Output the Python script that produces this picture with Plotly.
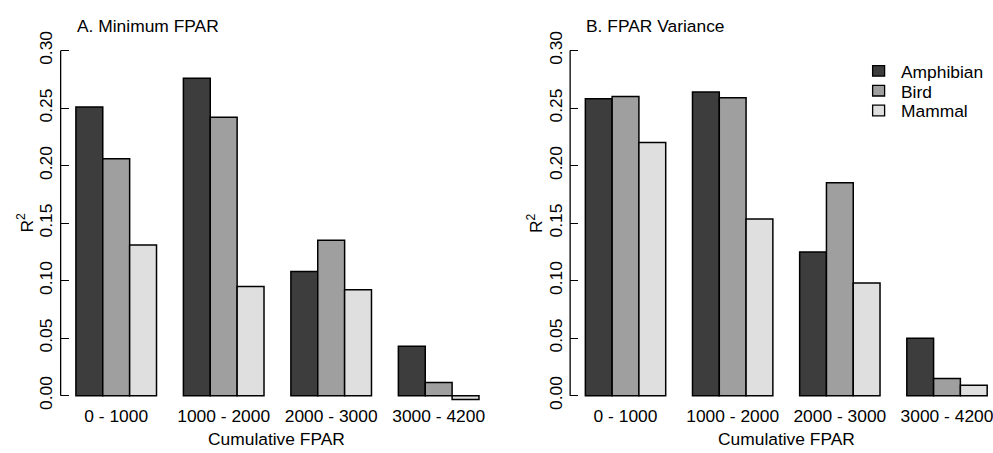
import plotly.graph_objects as go

W, H = 993, 453

categories = ["0 - 1000", "1000 - 2000", "2000 - 3000", "3000 - 4200"]
series_names = ["Amphibian", "Bird", "Mammal"]
colors = ["#3d3d3d", "#9f9f9f", "#dfdfdf"]

# Panel A: Minimum FPAR
min_fpar_amphibian = [0.251, 0.276, 0.108, 0.043]
min_fpar_bird = [0.206, 0.242, 0.135, 0.0115]
min_fpar_mammal = [0.131, 0.095, 0.092, -0.0034]

# Panel B: FPAR Variance
var_fpar_amphibian = [0.258, 0.264, 0.125, 0.050]
var_fpar_bird = [0.260, 0.259, 0.185, 0.015]
var_fpar_mammal = [0.220, 0.1535, 0.098, 0.009]

y_ticks = [0.00, 0.05, 0.10, 0.15, 0.20, 0.25, 0.30]
y_tick_labels = ["0.00", "0.05", "0.10", "0.15", "0.20", "0.25", "0.30"]

panel_titles = ["A. Minimum FPAR", "B. FPAR Variance"]
x_title = "Cumulative FPAR"
y_title = "R<sup>2</sup>"

FONT = "Liberation Sans, Arial, sans-serif"
FS = 17.4

fig = go.Figure()

panels = [
    ("x", "y", [min_fpar_amphibian, min_fpar_bird, min_fpar_mammal]),
    ("x2", "y2", [var_fpar_amphibian, var_fpar_bird, var_fpar_mammal]),
]
for xa, ya, vals in panels:
    for name, col, v in zip(series_names, colors, vals):
        fig.add_trace(go.Bar(
            x=categories, y=v, name=name, xaxis=xa, yaxis=ya,
            marker=dict(color=col, line=dict(color="black", width=1.5)),
            showlegend=False,
        ))


def px_x(p):
    return p / W


def px_y(p):
    return 1 - p / H


y_range = [-0.006, 0.31]
y_dom = [px_y(408.1), px_y(32.1)]

axis_common_x = dict(
    type="category", showline=False, showgrid=False, zeroline=False,
    ticks="", tickfont=dict(family=FONT, size=FS, color="black"),
    ticklabelstandoff=1,
)
axis_common_y = dict(
    range=y_range, showline=False, showgrid=False, zeroline=False,
    ticks="inside", ticklen=8, tickwidth=1.3, tickcolor="black",
    tickvals=y_ticks, ticktext=y_tick_labels, tickangle=-90,
    tickfont=dict(family=FONT, size=FS, color="black"),
    ticklabelstandoff=4,
)

fig.update_layout(
    width=W, height=H,
    margin=dict(l=0, r=0, t=0, b=0),
    paper_bgcolor="white", plot_bgcolor="white",
    barmode="group", bargap=0.25, bargroupgap=0,
    font=dict(family=FONT, size=FS, color="black"),
    showlegend=False,
    xaxis=dict(domain=[px_x(60.7), px_x(495.6)], range=[-0.517, 3.525],
               anchor="y", **axis_common_x),
    yaxis=dict(domain=y_dom, anchor="x", **axis_common_y),
    xaxis2=dict(domain=[px_x(570.7), 1.0], range=[-0.517, 3.42],
                anchor="y2", **axis_common_x),
    yaxis2=dict(domain=y_dom, anchor="x2", **axis_common_y),
)

shapes = []
for xa, ya in [("x", "y"), ("x2", "y2")]:
    shapes.append(dict(type="line", xref=f"{xa} domain", yref=ya,
                       x0=0, x1=0, y0=0, y1=0.3,
                       line=dict(color="black", width=1.3)))

annotations = [
    dict(text=panel_titles[0], x=px_x(75), y=px_y(19), xref="paper", yref="paper",
         xanchor="left", yanchor="middle", showarrow=False,
         font=dict(family=FONT, size=FS)),
    dict(text=panel_titles[1], x=px_x(585), y=px_y(19), xref="paper", yref="paper",
         xanchor="left", yanchor="middle", showarrow=False,
         font=dict(family=FONT, size=FS)),
    dict(text=x_title, x=px_x(277), y=px_y(446), xref="paper", yref="paper",
         xanchor="center", yanchor="middle", showarrow=False,
         font=dict(family=FONT, size=FS)),
    dict(text=x_title, x=px_x(787), y=px_y(446), xref="paper", yref="paper",
         xanchor="center", yanchor="middle", showarrow=False,
         font=dict(family=FONT, size=FS)),
    dict(text=y_title, x=px_x(25), y=px_y(222), xref="paper", yref="paper",
         xanchor="center", yanchor="middle", showarrow=False, textangle=-90,
         font=dict(family=FONT, size=FS)),
    dict(text=y_title, x=px_x(535), y=px_y(222), xref="paper", yref="paper",
         xanchor="center", yanchor="middle", showarrow=False, textangle=-90,
         font=dict(family=FONT, size=FS)),
]

# Manual legend (R-style): filled squares with black border + labels
legend_rows_px = [65, 85.5, 106]
for name, col, cy in zip(series_names, colors, legend_rows_px):
    shapes.append(dict(type="rect", xref="paper", yref="paper",
                       x0=px_x(873.5), x1=px_x(885.5),
                       y0=px_y(cy + 5.5), y1=px_y(cy - 5.5),
                       fillcolor=col, line=dict(color="black", width=1.3)))
    annotations.append(dict(text=name, x=px_x(899.5), y=px_y(cy + 1),
                            xref="paper", yref="paper",
                            xanchor="left", yanchor="middle", showarrow=False,
                            font=dict(family=FONT, size=FS)))

fig.update_layout(shapes=shapes, annotations=annotations)

fig.write_html("out.html")
